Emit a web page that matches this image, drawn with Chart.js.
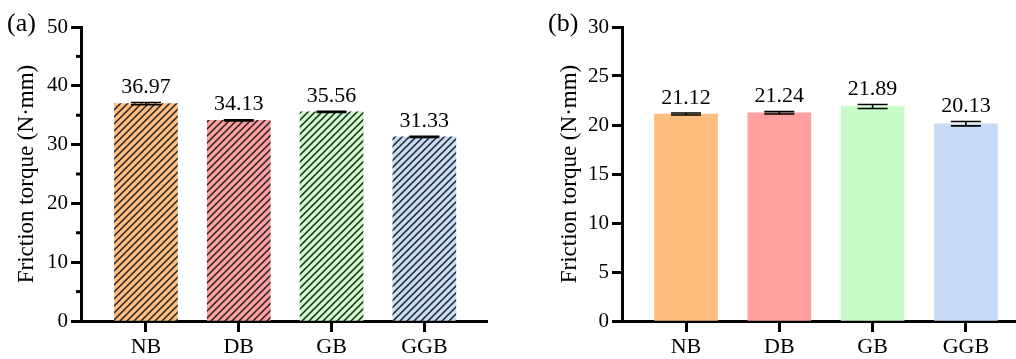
<!DOCTYPE html>
<html>
<head>
<meta charset="utf-8">
<script src="https://cdn.jsdelivr.net/npm/chart.js@4"></script>
<style>
  body { margin: 0; background: #fff; }
  #wrap { position: relative; width: 1016px; height: 359px; }
  canvas { position: absolute; top: 0; }
</style>
</head>
<body>
<div id="wrap">
  <canvas id="chartA" width="508" height="359" style="left:0"></canvas>
  <canvas id="chartB" width="508" height="359" style="left:508px"></canvas>
</div>
<script>
// data
const categories = ["NB", "DB", "GB", "GGB"];
const torqueA = [36.97, 34.13, 35.56, 31.33];
const errA = [0.2, 0.1, 0.1, 0.1];
const torqueB = [21.12, 21.24, 21.89, 20.13];
const errB = [0.1, 0.12, 0.2, 0.22];
const barColors = ["#FFBE7F", "#FF9F9F", "#C9FBC9", "#C6DBF6"];
const yTitle = "Friction torque (N·mm)";

const serif = '"Liberation Serif", "Times New Roman", serif';

// diagonal "/" hatch over a colour
function makeHatch(color) {
  const c = document.createElement("canvas");
  c.width = 7;
  c.height = 7;
  const g = c.getContext("2d");
  g.fillStyle = color;
  g.fillRect(0, 0, 7, 7);
  g.strokeStyle = "#222";
  g.lineWidth = 1.5;
  g.beginPath();
  g.moveTo(-1, 8); g.lineTo(8, -1);
  g.moveTo(-1, 1); g.lineTo(1, -1);
  g.moveTo(6, 8); g.lineTo(8, 6);
  g.stroke();
  return g.createPattern(c, "repeat");
}

// error bars, value labels, minor ticks, panel letter
const decor = {
  id: "decor",
  afterDatasetsDraw(chart) {
    const o = chart.options.plugins.decor;
    const ctx = chart.ctx;
    const y = chart.scales.y;
    const meta = chart.getDatasetMeta(0);
    const vals = chart.data.datasets[0].data;
    ctx.save();
    meta.data.forEach((bar, i) => {
      const v = vals[i].y;
      const e = o.errs[i];
      const top = y.getPixelForValue(v + e);
      const bot = y.getPixelForValue(v - e);
      ctx.strokeStyle = "#000";
      ctx.lineWidth = 1.6;
      ctx.beginPath();
      ctx.moveTo(bar.x, top); ctx.lineTo(bar.x, bot);
      ctx.moveTo(bar.x - 15, top); ctx.lineTo(bar.x + 15, top);
      ctx.moveTo(bar.x - 15, bot); ctx.lineTo(bar.x + 15, bot);
      ctx.stroke();
      ctx.fillStyle = "#000";
      ctx.font = "22px " + serif;
      ctx.textAlign = "center";
      ctx.textBaseline = "alphabetic";
      ctx.fillText(v.toFixed(2), bar.x, top - 9.5);
    });
    ctx.restore();
  },
  afterDraw(chart) {
    const o = chart.options.plugins.decor;
    const ctx = chart.ctx;
    const y = chart.scales.y;
    const left = chart.chartArea.left;
    ctx.save();
    ctx.strokeStyle = "#000";
    ctx.lineWidth = 3;
    o.minor.forEach((m) => {
      const py = y.getPixelForValue(m);
      ctx.beginPath();
      ctx.moveTo(left - 5, py); ctx.lineTo(left, py);
      ctx.stroke();
    });
    ctx.fillStyle = "#000";
    ctx.font = "26px " + serif;
    ctx.textAlign = "left";
    ctx.textBaseline = "alphabetic";
    ctx.fillText(o.panel, o.panelX, 31);
    ctx.restore();
  },
};

function makeChart(id, values, errs, bgs, yMax, yStep, minor, axisLeft, padLeft, padRight, xMin, xMax, panel, panelX) {
  return new Chart(document.getElementById(id), {
    type: "bar",
    data: {
      datasets: [
        {
          data: values.map((v, i) => ({ x: i, y: v })),
          backgroundColor: bgs,
          borderWidth: 0,
          barThickness: 63,
        },
      ],
    },
    options: {
      responsive: false,
      animation: false,
      layout: { padding: { left: padLeft, right: padRight, top: 27, bottom: 0 } },
      plugins: {
        legend: { display: false },
        tooltip: { enabled: false },
        decor: { errs: errs, minor: minor, panel: panel, panelX: panelX },
      },
      scales: {
        x: {
          type: "linear",
          offset: false,
          min: xMin,
          max: xMax,
          afterBuildTicks: (s) => {
            s.ticks = categories.map((c, i) => ({ value: i }));
          },
          ticks: {
            callback: (v) => categories[v],
            font: { family: serif, size: 22 },
            color: "#000",
            padding: 2,
            maxRotation: 0,
            autoSkip: false,
          },
          grid: { offset: false, drawOnChartArea: false, tickLength: 11, tickWidth: 3, tickColor: "#000" },
          border: { color: "#000", width: 3 },
          afterFit: (s) => {
            s.height = 38;
          },
        },
        y: {
          min: 0,
          max: yMax,
          ticks: { stepSize: yStep, font: { family: serif, size: 21 }, color: "#000", padding: 3 },
          grid: { drawOnChartArea: false, tickLength: 10, tickWidth: 3, tickColor: "#000" },
          border: { color: "#000", width: 3 },
          title: {
            display: true,
            text: yTitle,
            font: { family: serif, size: 23 },
            color: "#000",
            padding: 0,
          },
          afterFit: (s) => {
            s.width = axisLeft - padLeft;
          },
        },
      },
    },
    plugins: [decor],
  });
}

// (a) hatched
makeChart("chartA", torqueA, errA, barColors.map(makeHatch), 50, 10, [5, 15, 25, 35, 45],
  81, 13, 21, -0.7, 3.675, "(a)", 7);
// (b) plain
makeChart("chartB", torqueB, errB, barColors, 30, 5, [],
  114, 48, 1, -0.686, 3.526, "(b)", 40);
</script>
</body>
</html>
